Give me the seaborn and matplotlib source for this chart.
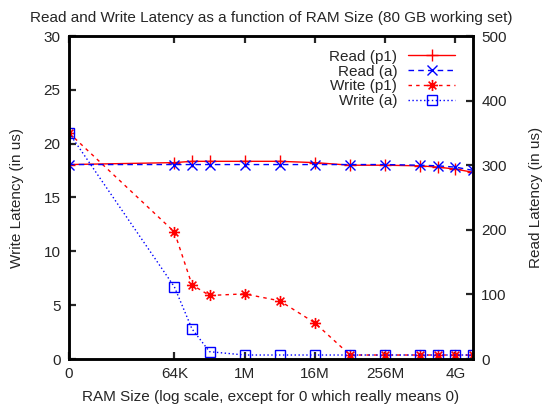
import numpy as np
import pandas as pd
import matplotlib
matplotlib.use("Agg")
import matplotlib.pyplot as plt
from matplotlib.path import Path
import seaborn as sns

# RAM sizes in bytes (0 is drawn at the left edge of the log axis)
ram_sizes = [0, 2**16, 2**17, 2**18, 2**20, 2**22, 2**24, 2**26,
             2**28, 2**30, 2**31, 2**32, 2**33]
read_p1 = [301, 304, 306, 306, 306, 306, 304, 300, 300, 299, 297, 294, 289]
read_a = [301, 301, 301, 301, 301, 301, 301, 301, 301, 300, 299, 297, 292]
write_p1 = [21.0, 11.8, 6.9, 5.9, 6.05, 5.4, 3.35, 0.37, 0.37, 0.37, 0.37, 0.37, 0.37]
write_a = [21.0, 6.7, 2.8, 0.68, 0.37, 0.37, 0.37, 0.37, 0.37, 0.37, 0.37, 0.37, 0.37]

tick_positions = [2**10, 2**16, 2**20, 2**24, 2**28, 2**32]
tick_labels = ["0", "64K", "1M", "16M", "256M", "4G"]
ZERO_POS = 2**10

FS = 11
sns.set_style("white")
plt.rcParams["font.family"] = ["Liberation Sans", "DejaVu Sans"]
plt.rcParams["font.size"] = FS

x_plot = [ZERO_POS if v == 0 else v for v in ram_sizes]
df = pd.DataFrame({"ram": x_plot, "read_p1": read_p1, "read_a": read_a,
                   "write_p1": write_p1, "write_a": write_a})

# asterisk-style marker: plus and cross overlaid
star_path = Path(
    [(-1, 0), (1, 0), (0, -1), (0, 1),
     (-0.7, -0.7), (0.7, 0.7), (-0.7, 0.7), (0.7, -0.7)],
    [Path.MOVETO, Path.LINETO, Path.MOVETO, Path.LINETO,
     Path.MOVETO, Path.LINETO, Path.MOVETO, Path.LINETO])

fig = plt.figure(figsize=(5.47, 4.11), dpi=100)
ax = fig.add_axes([69 / 547, 1 - 359 / 411, (473 - 69) / 547, (359 - 36) / 411])
ax2 = ax.twinx()

red, blue = "#ff0000", "#0000ff"
lw = 1.0

sns.lineplot(data=df, x="ram", y="read_p1", ax=ax2, color=red, lw=lw,
             linestyle="-", marker="+", markersize=8, mew=1.0, mec=red,
             label="Read (p1)", legend=False)
sns.lineplot(data=df, x="ram", y="read_a", ax=ax2, color=blue, lw=lw,
             linestyle=(0, (4, 3)), marker="x", markersize=7, mew=1.0,
             mec=blue, label="Read (a)", legend=False)
sns.lineplot(data=df, x="ram", y="write_p1", ax=ax, color=red, lw=lw,
             linestyle=(0, (2.5, 3)), marker=star_path, markersize=8,
             mew=1.2, mec=red, label="Write (p1)", legend=False)
sns.lineplot(data=df, x="ram", y="write_a", ax=ax, color=blue, lw=lw,
             linestyle=(0, (1, 1.8)), marker="s", markersize=6.5, mew=1.0,
             mfc="none", mec=blue, label="Write (a)", legend=False)

ax.set_xscale("log", base=2)
ax.set_xlim(2**10, 2**33)
ax.set_ylim(0, 30)
ax2.set_ylim(0, 500)
ax.set_xticks(tick_positions)
ax.set_xticklabels(tick_labels)
ax.xaxis.set_minor_locator(matplotlib.ticker.NullLocator())
ax.set_yticks(np.arange(0, 31, 5))
ax2.set_yticks(np.arange(0, 501, 100))

for a in (ax, ax2):
    for s in a.spines.values():
        s.set_linewidth(1.8)
        s.set_color("black")

ax.tick_params(axis="x", which="both", direction="in", top=True, bottom=True,
               length=5, width=1.6, pad=6, labelsize=FS)
ax.tick_params(axis="y", direction="in", left=True, right=False,
               length=5, width=1.6, pad=6, labelsize=FS)
ax2.tick_params(axis="y", direction="in", right=True, left=False,
                length=5, width=1.6, pad=6, labelsize=FS)

ax.set_xlabel("RAM Size (log scale, except for 0 which really means 0)",
              fontsize=FS, labelpad=6)
ax.set_ylabel("Write Latency (in us)", fontsize=FS, labelpad=14)
ax2.set_ylabel("Read Latency (in us)", fontsize=FS, labelpad=16)
ax.set_title("Read and Write Latency as a function of RAM Size (80 GB working set)",
             fontsize=FS, pad=10)

h2, l2 = ax2.get_legend_handles_labels()
h1, l1 = ax.get_legend_handles_labels()
ax2.legend(h2 + h1, l2 + l1, loc="upper right", frameon=False,
           markerfirst=False, handlelength=3.1, handletextpad=0.7,
           labelspacing=0.05, borderaxespad=0.5, borderpad=0.4,
           fontsize=FS)
leg = ax2.get_legend()
leg.set_bbox_to_anchor((1 - 4 / 404, 1.0), transform=ax2.transAxes)

fig.savefig("out.png", dpi=100)
